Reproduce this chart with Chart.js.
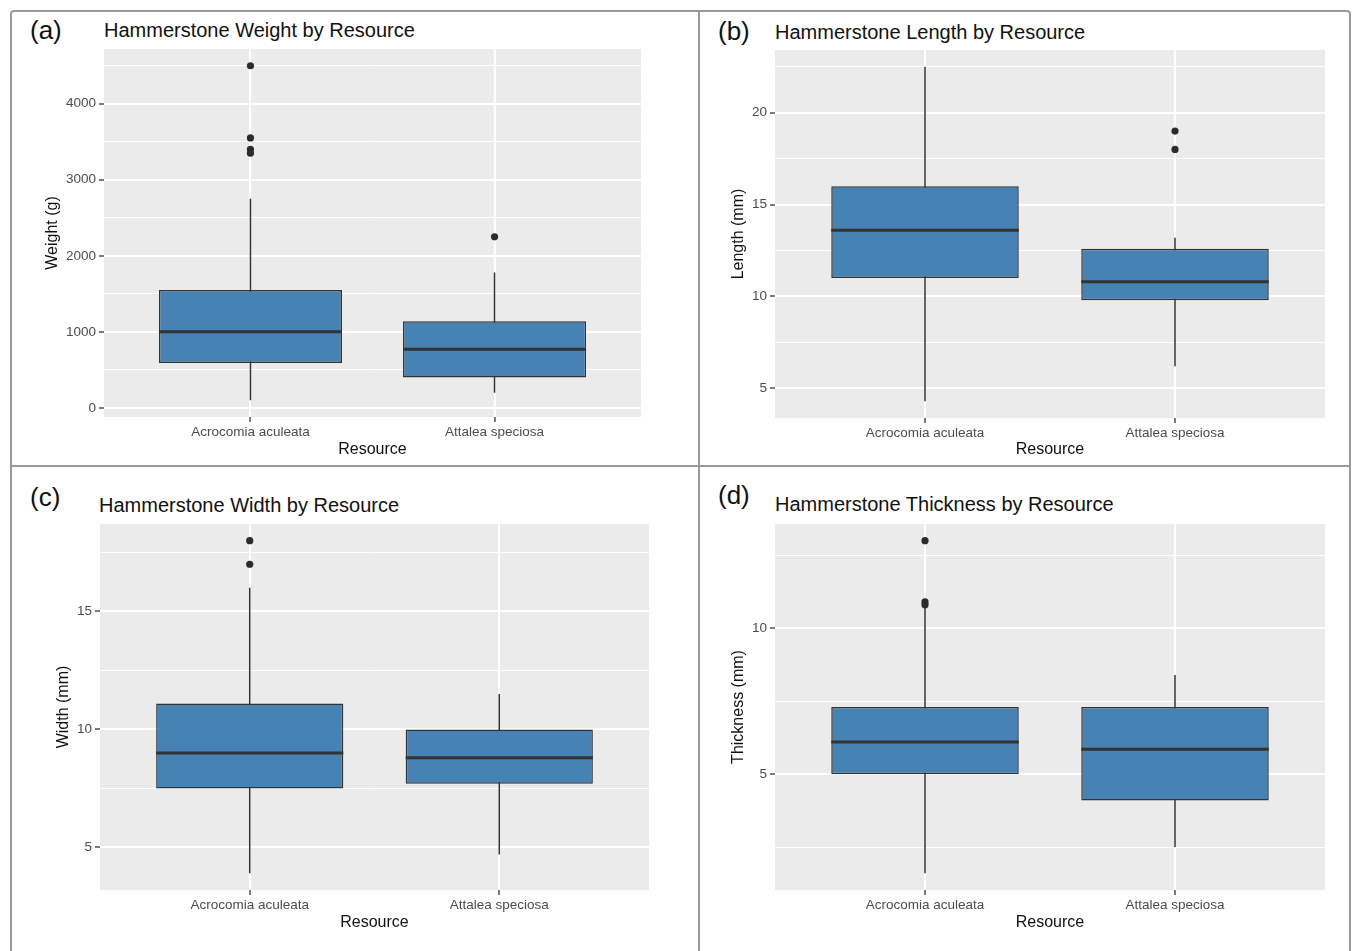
<!DOCTYPE html>
<html>
<head>
<meta charset="utf-8">
<title>Hammerstone measurements by resource</title>
<script src="https://cdn.jsdelivr.net/npm/chart.js@4.4.1/dist/chart.umd.min.js"></script>
<style>
  body { margin: 0; background: #fff; width: 1354px; height: 951px; overflow: hidden; position: relative;
         font-family: 'Liberation Sans', Arial, Helvetica, sans-serif; }
  .frame { position: absolute; left: 10px; top: 10px; width: 1341px; height: 990px; box-sizing: border-box;
           border: 2px solid #9a9a9a; border-radius: 4px; }
  .vline { position: absolute; left: 698px; top: 10px; width: 2px; height: 960px; background: #9a9a9a; }
  .hline { position: absolute; left: 10px; top: 465px; width: 1341px; height: 2px; background: #9a9a9a; }
  .box { position: absolute; }
  .tag { position: absolute; font-size: 26px; line-height: 1; color: #111; white-space: nowrap; }
  .title { position: absolute; font-size: 20px; line-height: 1; color: #111; white-space: nowrap; }
</style>
</head>
<body>
<div class="frame"></div>
<div class="vline"></div>
<div class="hline"></div>

<script>
// categories on the x axis
const categories = ['Acrocomia aculeata', 'Attalea speciosa'];

// boxplot summaries per category: [lower whisker, Q1, median, Q3, upper whisker]
const weightBoxes = [[100, 590, 1000, 1550, 2750], [200, 400, 770, 1140, 1780]];
const weightOutliers = [[4500, 3550, 3400, 3350], [2250]];
const weightTicks = [0, 1000, 2000, 3000, 4000];

const lengthBoxes = [[4.3, 11.0, 13.6, 16.0, 22.5], [6.2, 9.8, 10.8, 12.6, 13.2]];
const lengthOutliers = [[], [19.0, 18.0]];
const lengthTicks = [5, 10, 15, 20];

const widthBoxes = [[3.9, 7.5, 9.0, 11.1, 16.0], [4.7, 7.7, 8.8, 10.0, 11.5]];
const widthOutliers = [[18.0, 17.0], []];
const widthTicks = [5, 10, 15];

const thicknessBoxes = [[1.6, 5.0, 6.1, 7.3, 10.7], [2.5, 4.1, 5.85, 7.3, 8.4]];
const thicknessOutliers = [[13.0, 10.9, 10.8], []];
const thicknessTicks = [5, 10];

const FONT = "'Liberation Sans', Arial, Helvetica, sans-serif";
const BOX_W = 0.75; // box width in category units (ggplot default)

const panels = [
  { tag: '(a)', title: 'Hammerstone Weight by Resource', yTitle: 'Weight (g)',
    boxes: weightBoxes, outliers: weightOutliers, ticks: weightTicks,
    rect: [12, 12, 686, 454], yW: 92, xH: 49, pad: { top: 37, right: 57, bottom: 0 }, yTitlePad: 31,
    tagPos: [30, 17], titlePos: [104, 20] },
  { tag: '(b)', title: 'Hammerstone Length by Resource', yTitle: 'Length (mm)',
    boxes: lengthBoxes, outliers: lengthOutliers, ticks: lengthTicks,
    rect: [700, 12, 649, 454], yW: 75, xH: 48, pad: { top: 38, right: 24, bottom: 0 }, yTitlePad: 29,
    tagPos: [718, 18], titlePos: [775, 22] },
  { tag: '(c)', title: 'Hammerstone Width by Resource', yTitle: 'Width (mm)',
    boxes: widthBoxes, outliers: widthOutliers, ticks: widthTicks,
    rect: [12, 467, 686, 484], yW: 88, xH: 49, pad: { top: 57, right: 49, bottom: 12 }, yTitlePad: 42,
    tagPos: [30, 484], titlePos: [99, 495] },
  { tag: '(d)', title: 'Hammerstone Thickness by Resource', yTitle: 'Thickness (mm)',
    boxes: thicknessBoxes, outliers: thicknessOutliers, ticks: thicknessTicks,
    rect: [700, 467, 649, 484], yW: 75, xH: 49, pad: { top: 57, right: 24, bottom: 12 }, yTitlePad: 29,
    tagPos: [718, 482], titlePos: [775, 494] }
];

// grey ggplot panel background behind the grid
const panelBg = {
  id: 'panelBg',
  beforeDraw(chart) {
    const { ctx, chartArea: a } = chart;
    ctx.save();
    ctx.fillStyle = '#EBEBEB';
    ctx.fillRect(a.left, a.top, a.right - a.left, a.bottom - a.top);
    ctx.restore();
  }
};

function addText(cls, text, pos) {
  const d = document.createElement('div');
  d.className = cls;
  d.textContent = text;
  d.style.left = pos[0] + 'px';
  d.style.top = pos[1] + 'px';
  document.body.appendChild(d);
}

panels.forEach((p) => {
  addText('tag', p.tag, p.tagPos);
  addText('title', p.title, p.titlePos);

  const holder = document.createElement('div');
  holder.className = 'box';
  holder.style.left = p.rect[0] + 'px';
  holder.style.top = p.rect[1] + 'px';
  holder.style.width = p.rect[2] + 'px';
  holder.style.height = p.rect[3] + 'px';
  const canvas = document.createElement('canvas');
  holder.appendChild(canvas);
  document.body.appendChild(holder);

  // ggplot style 5% expansion of the y range
  let lo = Infinity, hi = -Infinity;
  p.boxes.forEach((b, i) => {
    lo = Math.min(lo, b[0], ...p.outliers[i]);
    hi = Math.max(hi, b[4], ...p.outliers[i]);
  });
  const ex = (hi - lo) * 0.05;
  const yMin = lo - ex, yMax = hi + ex;
  const step = p.ticks[1] - p.ticks[0];
  const isMajor = (v) => p.ticks.some((t) => Math.abs(t - v) < step * 1e-6);
  const yTickVals = [];
  for (let v = p.ticks[0] - step / 2; v <= yMax; v += step / 2) {
    if (v >= yMin) yTickVals.push(Math.round(v * 1e6) / 1e6);
  }

  const whiskers = [], medians = [], points = [];
  p.boxes.forEach((b, i) => {
    const x = i + 1;
    whiskers.push({ x: x, y: b[0] }, { x: x, y: b[4] }, { x: x + 0.5, y: null });
    medians.push({ x: x - BOX_W / 2, y: b[2] }, { x: x + BOX_W / 2, y: b[2] }, { x: x + 0.5, y: null });
    p.outliers[i].forEach((v) => points.push({ x: x, y: v }));
  });

  new Chart(canvas, {
    type: 'bar',
    data: {
      datasets: [
        {
          type: 'line', label: 'whiskers', data: whiskers, order: 3,
          borderColor: '#333333', borderWidth: 1.5, pointRadius: 0, spanGaps: false, borderCapStyle: 'butt'
        },
        {
          type: 'bar', label: 'box', order: 2,
          data: p.boxes.map((b, i) => ({ x: i + 1, y: [b[1], b[3]] })),
          backgroundColor: '#4682B4', borderColor: '#333333', borderWidth: 1.5, borderSkipped: false,
          categoryPercentage: 1, barPercentage: BOX_W
        },
        {
          type: 'line', label: 'median', data: medians, order: 1,
          borderColor: '#333333', borderWidth: 3, pointRadius: 0, spanGaps: false, borderCapStyle: 'butt'
        },
        {
          type: 'scatter', label: 'outliers', data: points, order: 0,
          backgroundColor: '#2b2b2b', borderWidth: 0, pointRadius: 3.6
        }
      ]
    },
    options: {
      responsive: true,
      maintainAspectRatio: false,
      animation: false,
      events: [],
      layout: { padding: { left: 0, top: p.pad.top, right: p.pad.right, bottom: p.pad.bottom } },
      plugins: { legend: { display: false }, tooltip: { enabled: false }, title: { display: false } },
      scales: {
        x: {
          type: 'linear', min: 0.4, max: 2.6, offset: false,
          afterBuildTicks: (s) => { s.ticks = categories.map((c, i) => ({ value: i + 1 })); },
          afterFit: (s) => { s.height = p.xH; },
          grid: { offset: false, color: '#ffffff', lineWidth: 2, tickColor: '#333333', tickWidth: 1.3, tickLength: 5 },
          border: { display: false },
          ticks: {
            callback: (v) => categories[v - 1], color: '#4d4d4d', padding: 2, maxRotation: 0,
            font: { family: FONT, size: 13.5 }
          },
          title: { display: true, text: 'Resource', color: '#111', padding: { top: 0, bottom: 7 },
                   font: { family: FONT, size: 16 } }
        },
        y: {
          type: 'linear', min: yMin, max: yMax, beginAtZero: false,
          afterBuildTicks: (s) => { s.ticks = yTickVals.map((v) => ({ value: v })); },
          afterFit: (s) => { s.width = p.yW; },
          grid: {
            color: '#ffffff',
            lineWidth: (c) => (c.tick && isMajor(c.tick.value) ? 2 : 1),
            tickColor: (c) => (c.tick && isMajor(c.tick.value) ? '#333333' : 'rgba(0,0,0,0)'),
            tickWidth: 1.3, tickLength: 5
          },
          border: { display: false },
          ticks: {
            autoSkip: false,
            callback: (v) => (isMajor(v) ? String(v) : ''), color: '#4d4d4d', padding: 3,
            font: { family: FONT, size: 13.5 }
          },
          title: { display: true, text: p.yTitle, color: '#111', padding: { top: p.yTitlePad, bottom: 0 },
                   font: { family: FONT, size: 16 } }
        }
      }
    },
    plugins: [panelBg]
  });
});
</script>
</body>
</html>
